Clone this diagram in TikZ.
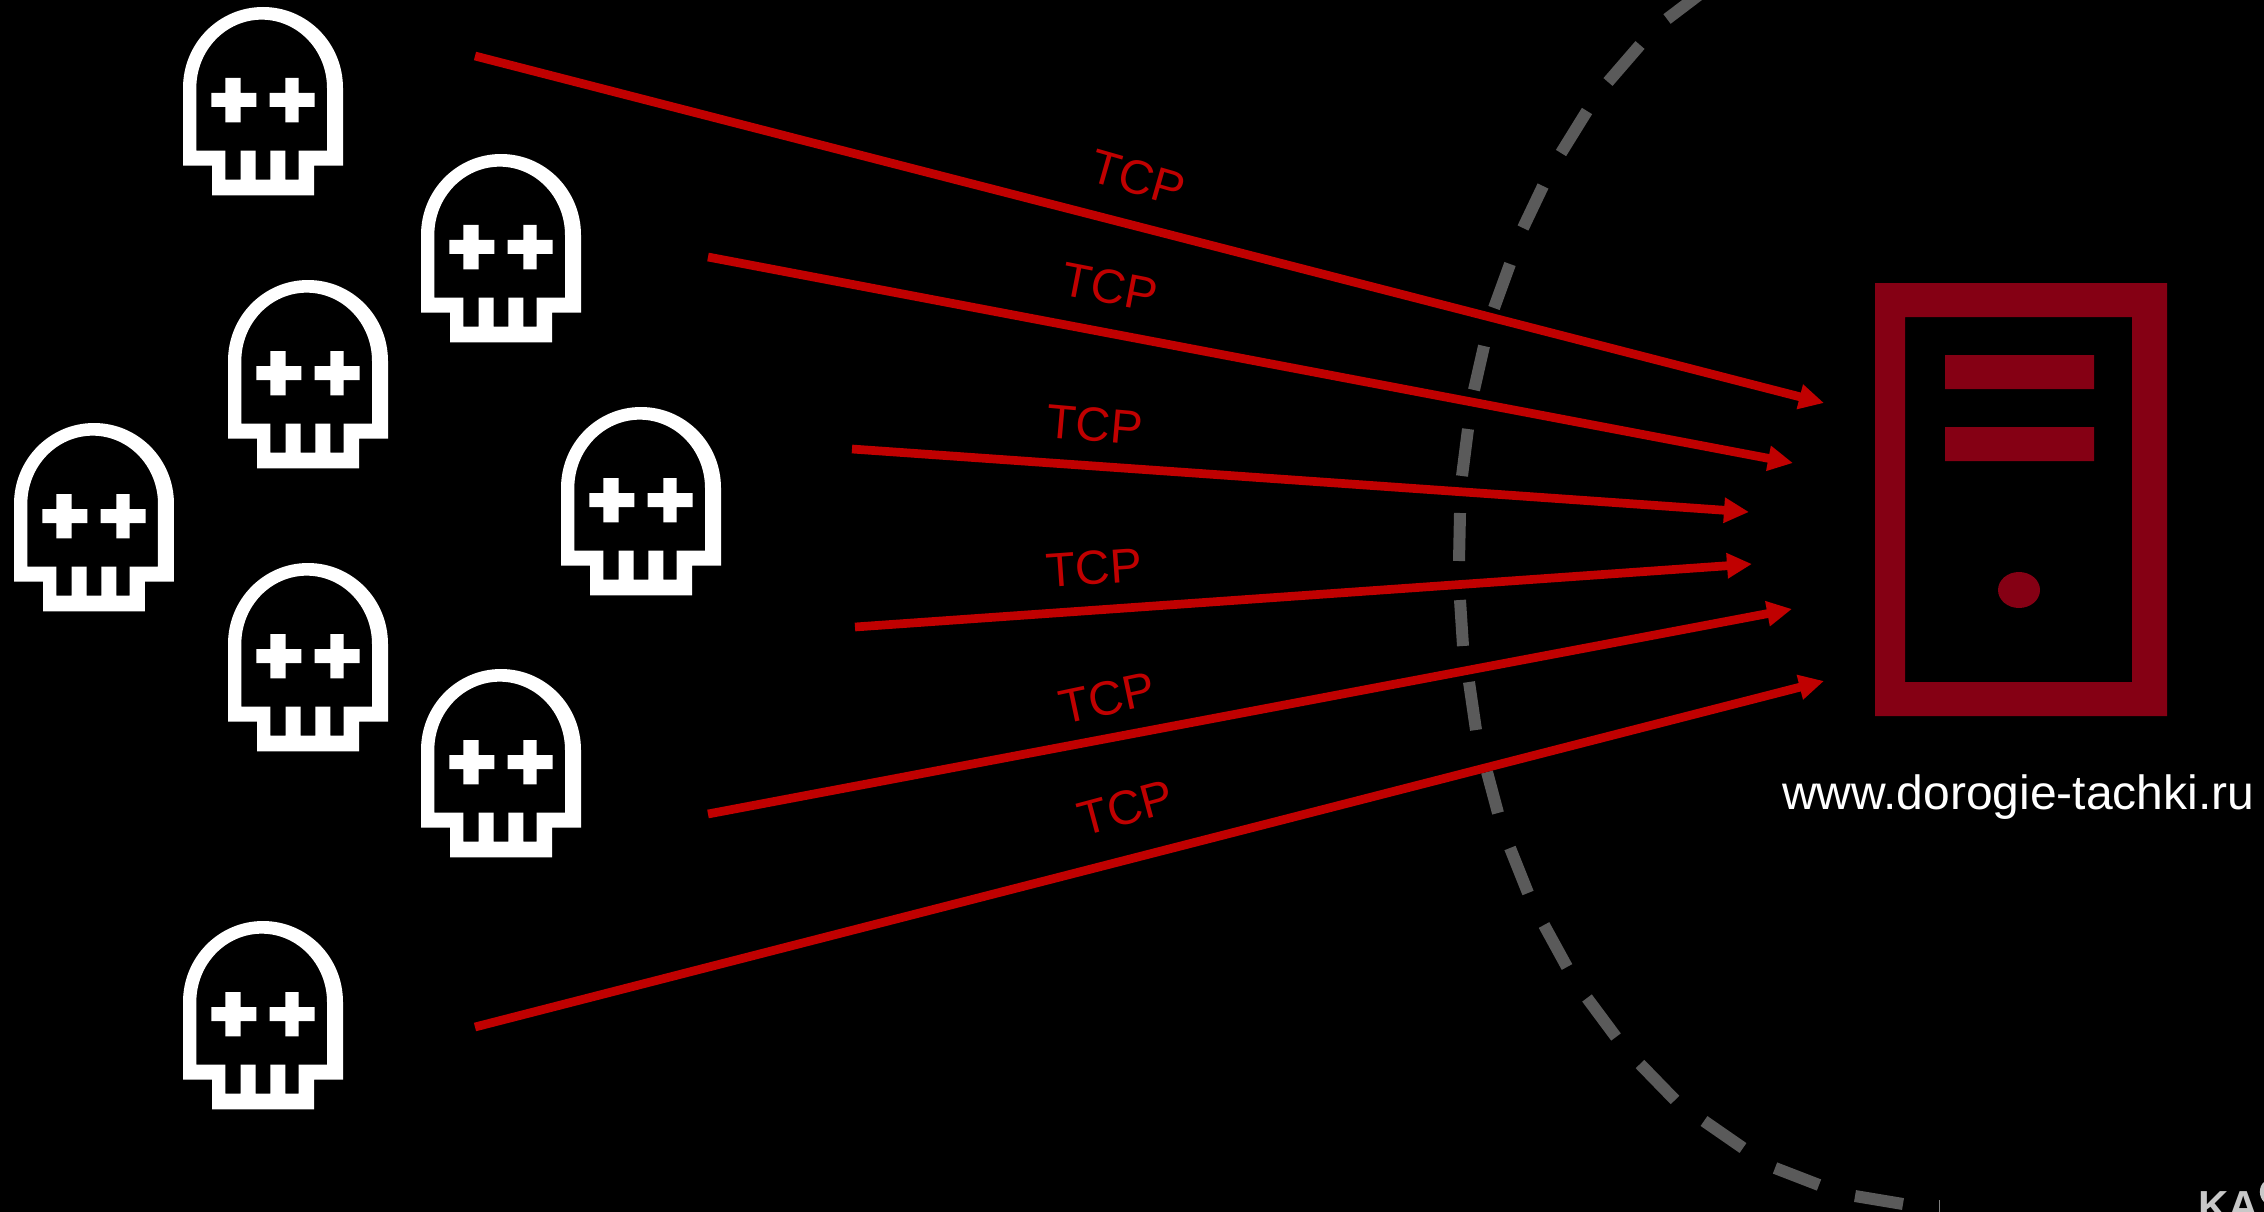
\documentclass[tikz,border=0pt]{standalone}
\usepackage{fontspec}
\setmainfont{Liberation Sans}
\usetikzlibrary{arrows.meta}
\definecolor{attack}{HTML}{C00000}
\definecolor{srv}{HTML}{850014}
\definecolor{perim}{HTML}{5A5A5A}
\definecolor{logo}{HTML}{C8C8C8}
\tikzset{
  x=1pt,y=-1pt,
  skull/.pic={
    \begin{scope}[shift={(-40,-22)}]
    \fill[white,even odd rule]
      (40,498) -- (40,265) .. controls (40,131) and (147,22) .. (280,22)
      .. controls (413,22) and (520,131) .. (520,265) -- (520,498)
      -- (433,498) -- (433,587) -- (127,587) -- (127,498) -- cycle
      (80,453) -- (80,265) .. controls (80,152) and (168,60) .. (276,60)
      .. controls (384,60) and (472,152) .. (472,265) -- (472,453)
      -- (387,453) -- (387,540) -- (347,540) -- (347,453) -- (302,453)
      -- (302,540) -- (258,540) -- (258,453) -- (213,453) -- (213,540)
      -- (167,540) -- (167,453) -- cycle;
    \fill[white] (125,280) rectangle (260,322) (167,235) rectangle (213,368)
      (300,280) rectangle (435,322) (347,235) rectangle (387,368);
    \end{scope}
  },
  flow/.style={draw=attack,line width=8.7pt,-{Triangle[length=25pt,width=24pt,fill=attack]}},
  tcp/.style={text=attack,font=\fontsize{48}{58}\selectfont,inner sep=0pt},
  border/.style={draw=perim,line width=12pt,line cap=butt},
}
\begin{document}
\begin{tikzpicture}
\useasboundingbox (0,0) rectangle (2264,1212);
\fill[black] (0,0) rectangle (2264,1212);
\clip (0,0) rectangle (2264,1212);
% skulls
\pic[scale=0.33333] at (183,7) {skull};
\pic[scale=0.33333] at (421,154) {skull};
\pic[scale=0.33333] at (228,280) {skull};
\pic[scale=0.33333] at (14,423) {skull};
\pic[scale=0.33333] at (561,407) {skull};
\pic[scale=0.33333] at (228,563) {skull};
\pic[scale=0.33333] at (421,669) {skull};
\pic[scale=0.33333] at (183,921) {skull};
% perimeter
\draw[border]
  (1667,19)--(1700,-6) (1640,45)--(1608,82) (1587,111)--(1561,153)
  (1543,186)--(1523,228) (1510,264)--(1494,308) (1484,346)--(1474,390)
  (1468,429)--(1462,476) (1460,513)--(1459,561) (1460,600)--(1463,646)
  (1469,682)--(1476,730) (1487,772)--(1498,813) (1510,848)--(1528,893)
  (1544,925)--(1567,967) (1587,998)--(1616,1037) (1640,1064)--(1675,1100)
  (1704,1121)--(1743,1148) (1775,1168)--(1819,1185) (1855,1196)--(1903,1204);
% connector endpoints
\coordinate (s1) at (475,56);  \coordinate (e1) at (1824,403);
\coordinate (s2) at (708,257); \coordinate (e2) at (1793,463);
\coordinate (s3) at (852,449); \coordinate (e3) at (1749,512);
\coordinate (s4) at (855,627); \coordinate (e4) at (1752,564);
\coordinate (s5) at (708,814); \coordinate (e5) at (1792,609);
\coordinate (s6) at (475,1027);\coordinate (e6) at (1824,681);
\foreach \i in {1,...,6} \draw[flow] (s\i) -- (e\i);
% labels
\node[tcp,rotate=-16] (t1) at (1138,178) {TCP};
\node[tcp,rotate=-11] (t2) at (1110,287) {TCP};
\node[tcp,rotate=-5] (t3) at (1095,425) {TCP};
\node[tcp,rotate=4] (t4) at (1094,568) {TCP};
\node[tcp,rotate=12] (t5) at (1107,698) {TCP};
\node[tcp,rotate=15] (t6) at (1126,808) {TCP};
% server
\fill[srv,even odd rule] (1875,283) rectangle (2167,716) (1905,317) rectangle (2132,682);
\fill[srv] (1945,355) rectangle (2094,389) (1945,427) rectangle (2094,461);
\fill[srv] (2019,590) ellipse [x radius=21,y radius=18];
\node[anchor=base west,inner sep=0pt,text=white,font=\fontsize{48}{58}\selectfont] (url) at (1782,809) {www.dorogie-tachki.ru};
% bottom-right slide furniture
\draw[draw=gray,line width=1pt] (1939,1200) -- (1939,1212);
\node[anchor=base west,inner sep=0pt,text=logo,font=\bfseries\fontsize{42}{50}\selectfont] (lg) at (2198,1220) {KA};
\fill[logo] (2264,1182) .. controls (2259,1186) and (2258,1196) .. (2264,1202) -- cycle;
\end{tikzpicture}
\end{document}
